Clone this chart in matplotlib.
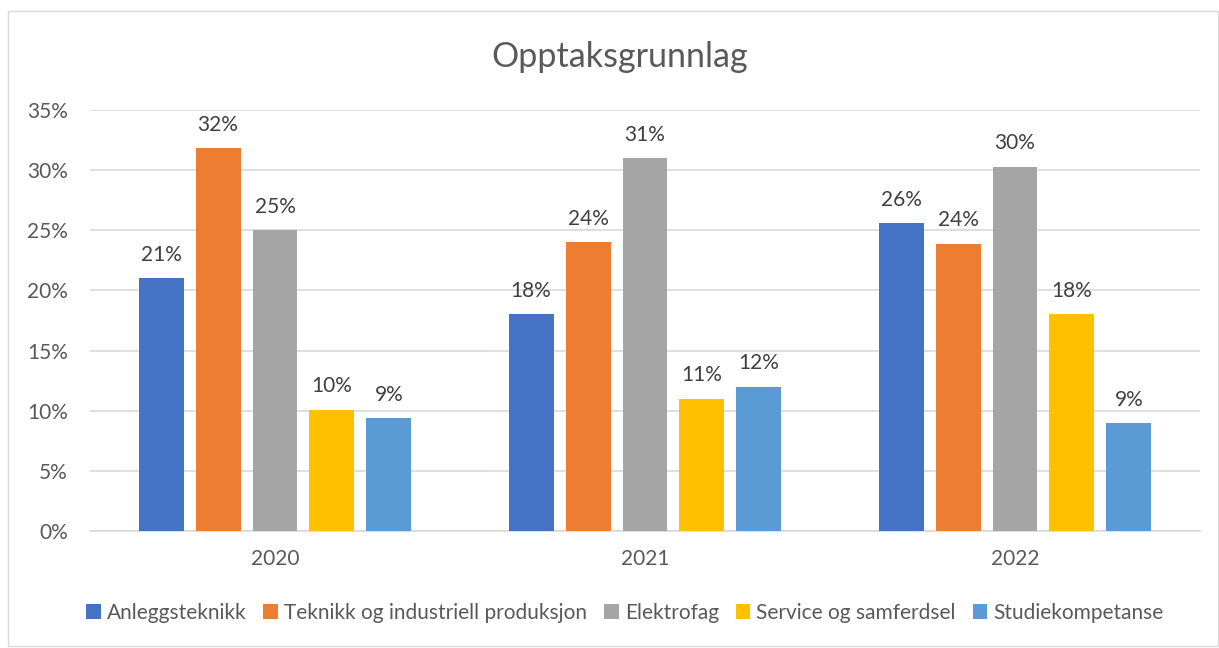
import matplotlib.pyplot as plt
import numpy as np
from matplotlib.patches import Rectangle

years = ["2020", "2021", "2022"]
series_names = ["Anleggsteknikk", "Teknikk og industriell produksjon", "Elektrofag",
                "Service og samferdsel", "Studiekompetanse"]
anlegg = [0.21, 0.18, 0.256]
teknikk = [0.318, 0.24, 0.239]
elektro = [0.25, 0.31, 0.303]
service = [0.101, 0.11, 0.18]
studie = [0.094, 0.12, 0.09]
labels = [["21%", "18%", "26%"], ["32%", "24%", "24%"], ["25%", "31%", "30%"],
          ["10%", "11%", "18%"], ["9%", "12%", "9%"]]
colors = ["#4472C4", "#ED7D31", "#A5A5A5", "#FFC000", "#5B9BD5"]

plt.rcParams['font.family'] = ['Lato', 'DejaVu Sans']
txt = "#595959"
fs = 15

fig = plt.figure(figsize=(12.19, 6.48), dpi=100)
fig.patches.append(Rectangle((8 / 1219, 2 / 648), 1210 / 1219, 635 / 648, transform=fig.transFigure,
                             fill=False, edgecolor="#d9d9d9", linewidth=1))
ax = fig.add_axes([90 / 1219, 117 / 648, 1110 / 1219, 421 / 648])

all_series = [anlegg, teknikk, elektro, service, studie]
x = np.arange(len(years))
step = 0.154
width = 0.1216
for i, (vals, c) in enumerate(zip(all_series, colors)):
    pos = x + (i - 2) * step
    ax.bar(pos, vals, width, color=c, label=series_names[i], zorder=3)
    for p, v, lab in zip(pos, vals, labels[i]):
        ax.text(p, v + 0.011, lab, ha="center", va="bottom", fontsize=fs, color="#404040")

ax.set_xlim(-0.5, 2.5)
ax.set_ylim(0, 0.35)
ax.set_yticks(np.arange(0, 0.351, 0.05))
ax.set_yticklabels([f"{int(round(t * 100))}%" for t in np.arange(0, 0.351, 0.05)])
ax.set_xticks(x)
ax.set_xticklabels(years)
ax.tick_params(axis="both", length=0, labelsize=fs, labelcolor=txt)
ax.tick_params(axis="x", pad=13)
ax.tick_params(axis="y", pad=16)
ax.grid(axis="y", color="#d9d9d9", linewidth=1.2, zorder=0)
for s in ["top", "right", "left"]:
    ax.spines[s].set_visible(False)
ax.spines["bottom"].set_color("#d9d9d9")
ax.spines["bottom"].set_linewidth(1.2)

fig.text(620 / 1219, 1 - 57 / 648, "Opptaksgrunnlag", ha="center", va="center", fontsize=24.5, color=txt)
fig.legend(loc="center", bbox_to_anchor=(625 / 1219, 1 - 613 / 648), ncol=5, frameon=False,
           fontsize=fs, labelcolor=txt, handlelength=0.7, handleheight=0.7,
           handletextpad=0.3, columnspacing=0.8)

fig.savefig("out.png", dpi=100)
